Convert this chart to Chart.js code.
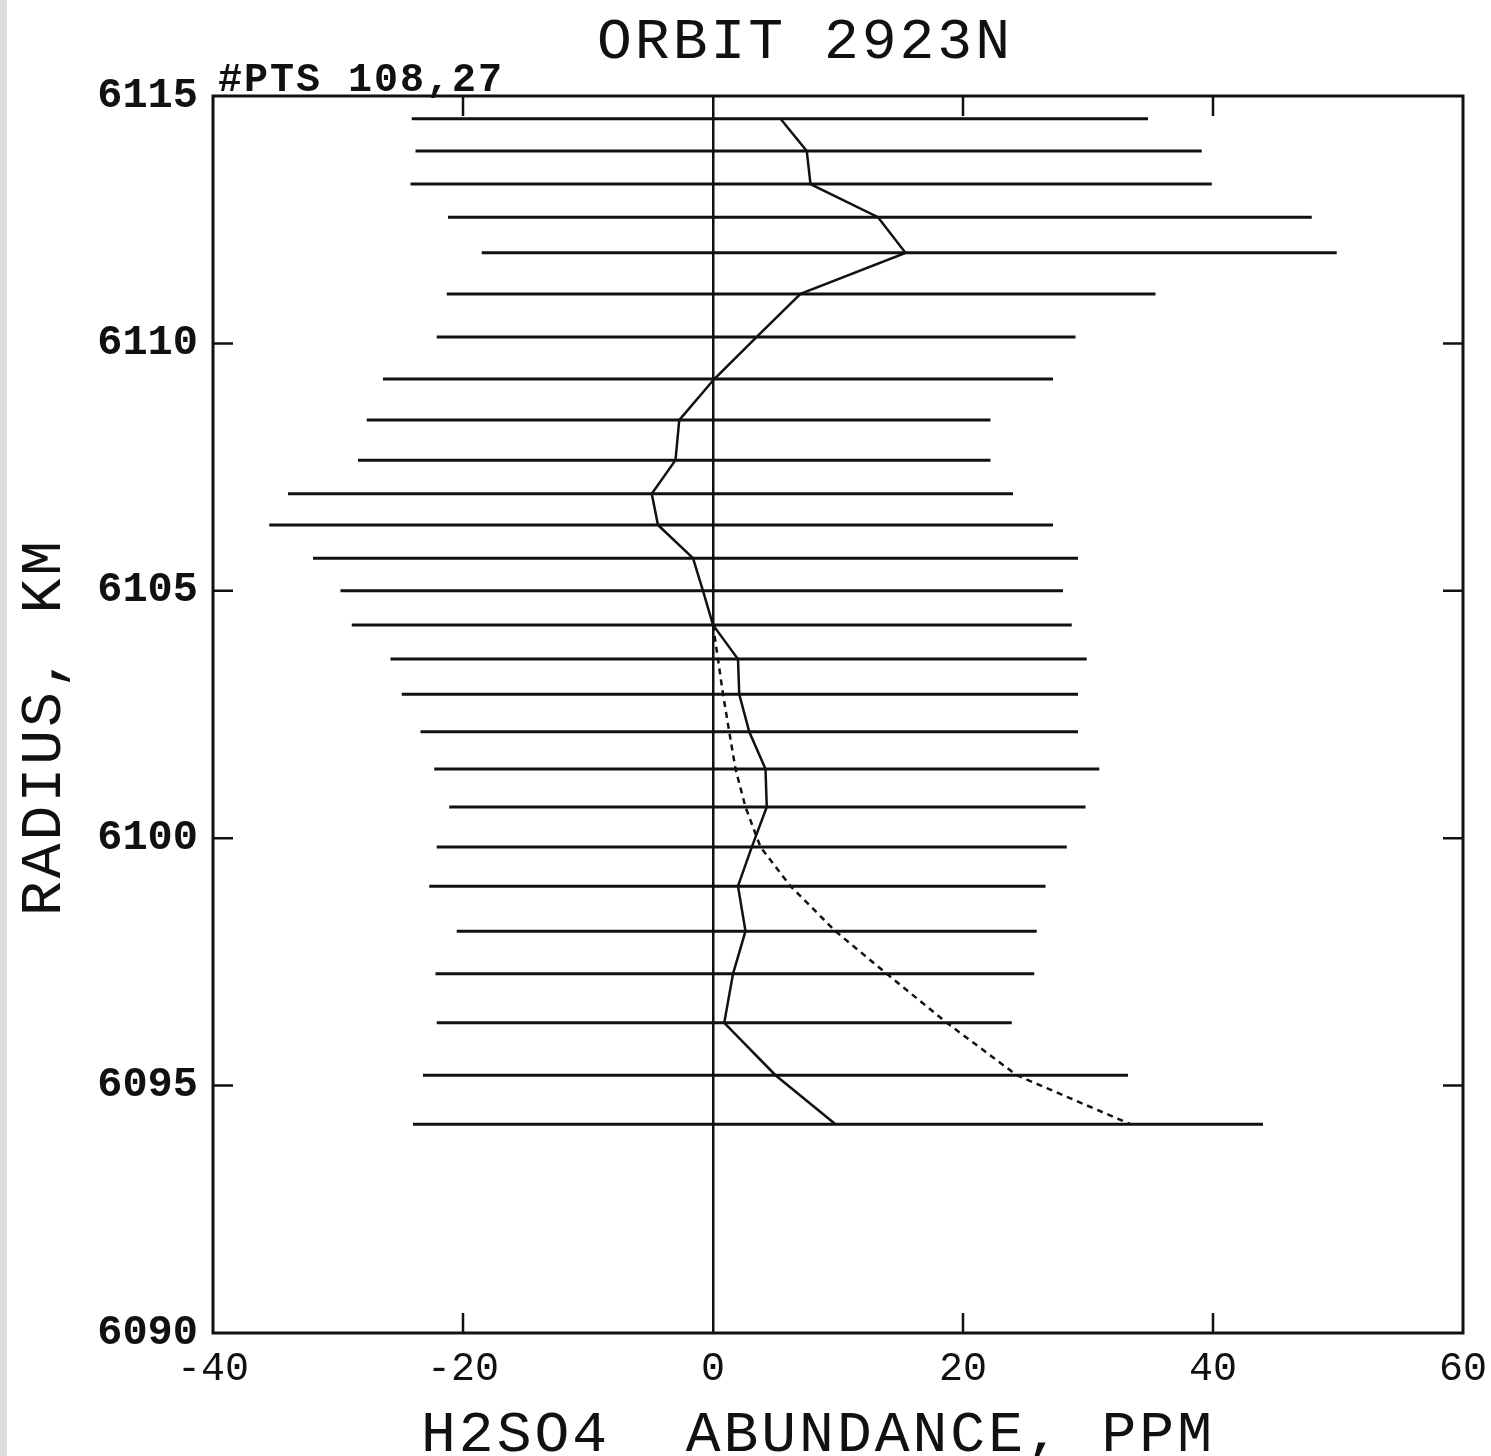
<!DOCTYPE html>
<html>
<head>
<meta charset="utf-8">
<script src="https://cdn.jsdelivr.net/npm/chart.js@4.4.1/dist/chart.umd.min.js"></script>
<style>
  html, body { margin: 0; padding: 0; background: #fff; }
  #wrap { position: relative; width: 1491px; height: 1456px; }
  #edge { position: absolute; left: 0; top: 0; width: 7px; height: 100%; background: #dcdcdc; }
  #orbit-chart { position: absolute; left: 0; top: 0; }
</style>
</head>
<body>
<div id="wrap">
  <div id="edge"></div>
  <canvas id="orbit-chart" width="1491" height="1456"></canvas>
</div>
<script>
// altitude levels, km
const radius = [6114.54, 6113.89, 6113.22, 6112.55, 6111.83, 6111.00, 6110.13, 6109.28, 6108.45,
  6107.64, 6106.96, 6106.33, 6105.66, 6105.00, 6104.31, 6103.62, 6102.91, 6102.15,
  6101.40, 6100.63, 6099.82, 6099.03, 6098.12, 6097.26, 6096.27, 6095.21, 6094.22];

// retrieved H2SO4 abundance (ppm) and its error range
const abundance = [5.4, 7.5, 7.8, 13.2, 15.4, 7.0, 3.5, 0.1, -2.7, -3.0, -4.9, -4.4, -1.6, -0.8,
  0.0, 2.0, 2.1, 2.9, 4.2, 4.3, 3.1, 2.0, 2.6, 1.6, 0.9, 5.0, 9.8];
const lower = [-24.1, -23.8, -24.2, -21.2, -18.5, -21.3, -22.1, -26.4, -27.7, -28.4, -34.0, -35.5,
  -32.0, -29.8, -28.9, -25.8, -24.9, -23.4, -22.3, -21.1, -22.1, -22.7, -20.5, -22.2, -22.1, -23.2, -24.0];
const upper = [34.8, 39.1, 39.9, 47.9, 49.9, 35.4, 29.0, 27.2, 22.2, 22.2, 24.0, 27.2, 29.2, 28.0,
  28.7, 29.9, 29.2, 29.2, 30.9, 29.8, 28.3, 26.6, 25.9, 25.7, 23.9, 33.2, 44.0];

// model profile (dotted)
const modelRadius = [6104.31, 6103.62, 6102.91, 6102.15, 6101.40, 6100.63, 6099.82, 6099.03,
  6098.12, 6097.26, 6096.27, 6095.21, 6094.22];
const modelAbundance = [0.0, 0.4, 0.8, 1.3, 1.8, 2.6, 3.8, 6.2, 9.8, 13.9, 18.7, 24.3, 33.4];

const xTicks = [-40, -20, 0, 20, 40, 60];
const yTicks = [6090, 6095, 6100, 6105, 6110, 6115];

const titleText = "ORBIT 2923N";
const countText = "#PTS 108,27";
const xTitle = "H2SO4  ABUNDANCE, PPM";
const yTitle = "RADIUS, KM";

const INK = "#111";

// one dataset for all error bars, broken up by null points
const errorBars = [];
radius.forEach((r, i) => {
  errorBars.push({ x: lower[i], y: r }, { x: upper[i], y: r }, { x: upper[i], y: null });
});

const frame = {
  id: "frame",
  afterDraw(chart) {
    const { ctx, chartArea: a, scales: { x, y } } = chart;
    const tickLen = 20;
    ctx.save();
    ctx.strokeStyle = INK;
    ctx.lineWidth = 3;
    ctx.strokeRect(a.left, a.top, a.right - a.left, a.bottom - a.top);

    // inward tick marks on all four sides
    ctx.lineWidth = 2.5;
    ctx.beginPath();
    x.ticks.forEach(t => {
      if (t.value === 0 || t.value === x.min || t.value === x.max) return;
      const px = x.getPixelForValue(t.value);
      ctx.moveTo(px, a.top); ctx.lineTo(px, a.top + tickLen);
      ctx.moveTo(px, a.bottom); ctx.lineTo(px, a.bottom - tickLen);
    });
    y.ticks.forEach(t => {
      if (t.value === y.min || t.value === y.max) return;
      const py = y.getPixelForValue(t.value);
      ctx.moveTo(a.left, py); ctx.lineTo(a.left + tickLen, py);
      ctx.moveTo(a.right, py); ctx.lineTo(a.right - tickLen, py);
    });
    ctx.stroke();

    ctx.fillStyle = INK;
    ctx.textBaseline = "alphabetic";

    ctx.font = '58px "Liberation Mono"';
    ctx.letterSpacing = "3px";
    ctx.textAlign = "center";
    ctx.fillText(titleText, 805, 58);
    ctx.fillText(xTitle, 818, 1451);

    ctx.save();
    ctx.translate(60, 727);
    ctx.rotate(-Math.PI / 2);
    ctx.fillText(yTitle, 0, 0);
    ctx.restore();

    ctx.font = 'bold 40px "Liberation Mono"';
    ctx.letterSpacing = "2px";
    ctx.textAlign = "left";
    ctx.fillText(countText, a.left + 5, a.top - 5);
    ctx.restore();
  }
};

new Chart(document.getElementById("orbit-chart"), {
  type: "line",
  data: {
    datasets: [
      {
        data: errorBars,
        borderColor: INK,
        borderWidth: 3,
        pointRadius: 0,
        spanGaps: false
      },
      {
        data: abundance.map((v, i) => ({ x: v, y: radius[i] })),
        borderColor: INK,
        borderWidth: 2.5,
        pointRadius: 0
      },
      {
        data: modelAbundance.map((v, i) => ({ x: v, y: modelRadius[i] })),
        borderColor: INK,
        borderWidth: 2.5,
        borderDash: [6, 5],
        pointRadius: 0
      }
    ]
  },
  options: {
    responsive: false,
    animation: false,
    layout: { padding: { top: 96, right: 28, left: 0, bottom: 0 } },
    plugins: {
      legend: { display: false },
      tooltip: { enabled: false }
    },
    scales: {
      x: {
        type: "linear",
        min: -40,
        max: 60,
        afterBuildTicks: s => { s.ticks = xTicks.map(v => ({ value: v })); },
        afterFit: s => { s.height = 123; s.paddingLeft = 0; s.paddingRight = 0; },
        border: { display: false },
        grid: {
          drawTicks: false,
          color: c => (c.tick && c.tick.value === 0 ? INK : "transparent"),
          lineWidth: 2.5
        },
        ticks: {
          padding: 12,
          color: INK,
          maxRotation: 0,
          font: { family: "Liberation Mono", size: 40 }
        }
      },
      y: {
        type: "linear",
        min: 6090,
        max: 6115,
        afterBuildTicks: s => { s.ticks = yTicks.map(v => ({ value: v })); },
        afterFit: s => { s.width = 213; s.paddingTop = 0; s.paddingBottom = 0; },
        border: { display: false },
        grid: { display: false, drawTicks: false },
        ticks: {
          padding: 15,
          color: INK,
          callback: v => String(v),
          font: { family: "Liberation Mono", size: 42, weight: "bold" }
        }
      }
    }
  },
  plugins: [frame]
});
</script>
</body>
</html>
